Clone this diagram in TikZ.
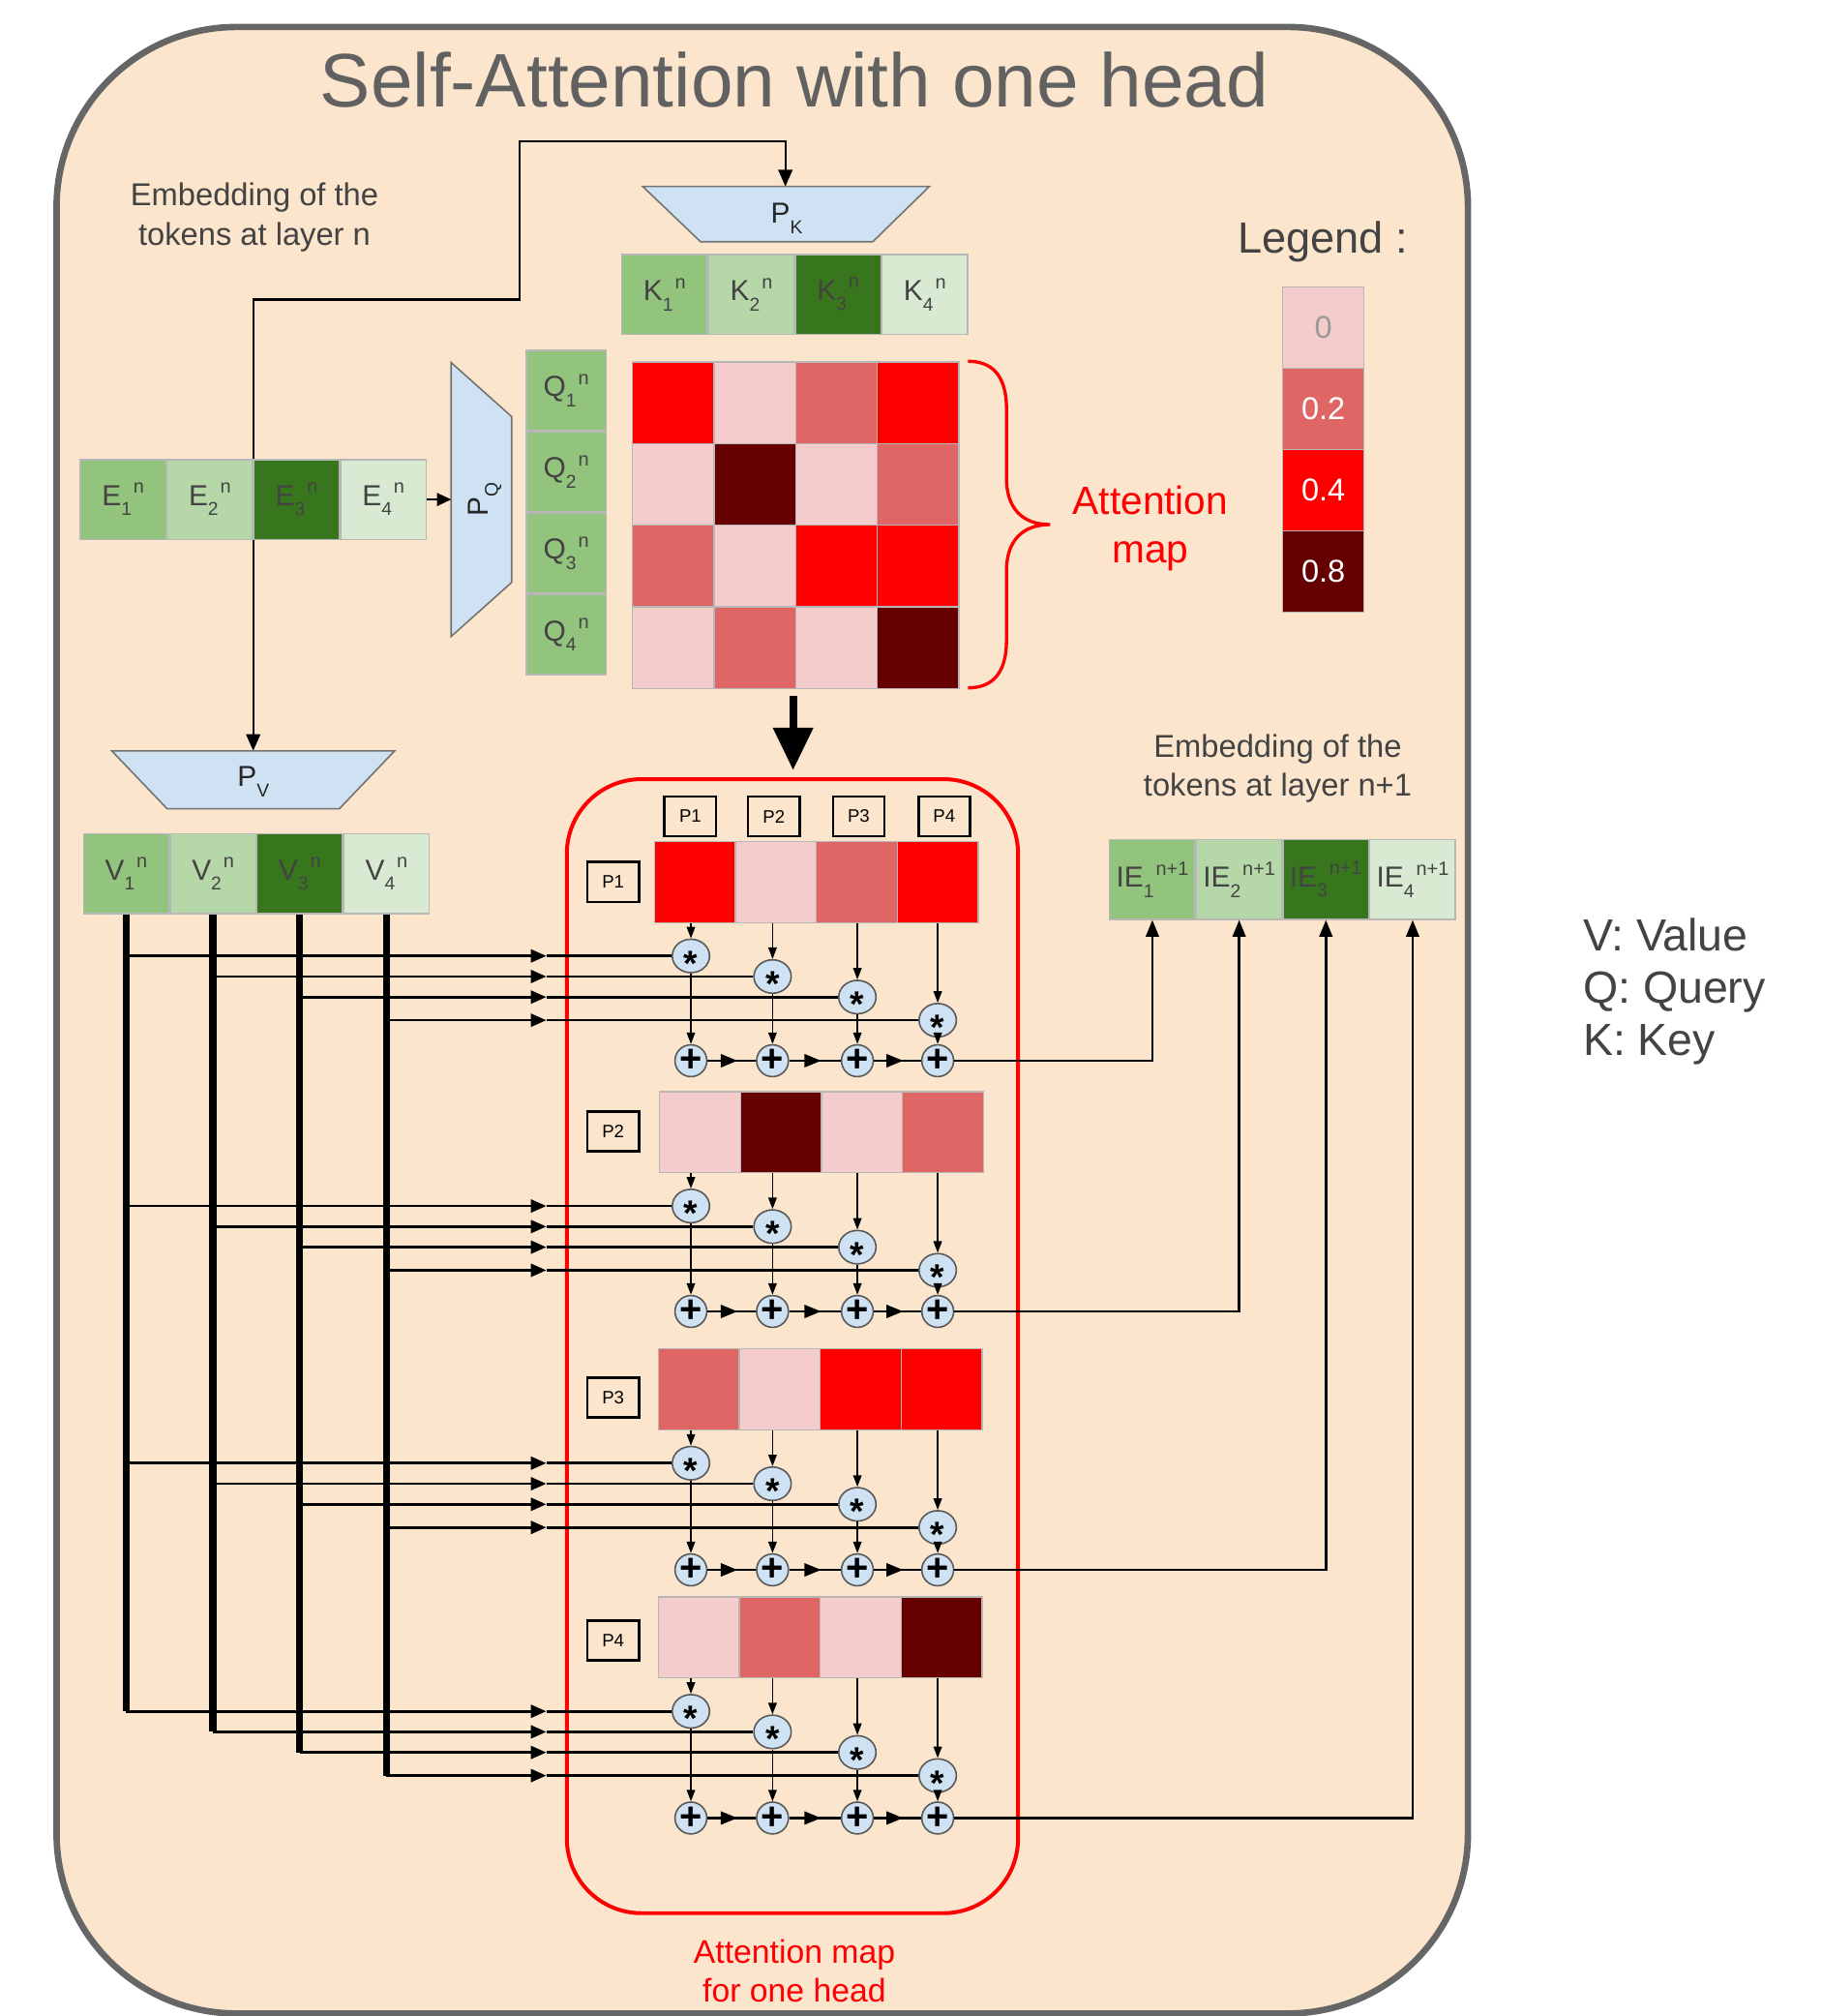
\documentclass[tikz,border=0pt]{standalone}
\usepackage{fontspec}
\setmainfont{Liberation Sans}
\usepackage{xcolor}
\usetikzlibrary{arrows.meta,positioning,shapes.geometric,decorations.markings}
\definecolor{peach}{HTML}{FCE5CD}
\definecolor{frame}{HTML}{666666}
\definecolor{projblue}{HTML}{CFE2F3}
\definecolor{gA}{HTML}{93C47D}
\definecolor{gB}{HTML}{B6D7A8}
\definecolor{gC}{HTML}{38761D}
\definecolor{gD}{HTML}{D9EAD3}
\definecolor{a0}{HTML}{F4CCCC}
\definecolor{a2}{HTML}{E06666}
\definecolor{a4}{HTML}{FF0000}
\definecolor{a8}{HTML}{660000}
\definecolor{txt}{HTML}{434343}
\definecolor{cellline}{HTML}{B7B7B7}
\newcommand{\lowsub}[1]{\raisebox{-0.35em}{\fontsize{14.5}{14.5}\selectfont #1}}
\newcommand{\highsup}[1]{\raisebox{0.42em}{\fontsize{15}{15}\selectfont #1}}
\newcommand{\tok}[3]{#1\lowsub{#2}\hspace{1.5pt}\highsup{#3}}
\tikzset{
  cell/.style  = {draw=cellline, line width=1pt, minimum width=66.5pt, minimum height=62pt,
                  inner sep=0pt, text=txt, font=\fontsize{22.5}{27}\selectfont},
  qcell/.style = {cell, fill=gA, minimum width=62pt, minimum height=62.3pt},
  acell/.style = {draw=cellline, line width=1pt, minimum width=63.4pt, minimum height=63.4pt,
                  inner sep=0pt},
  proj/.style  = {draw=black!55, line width=1.2pt, fill=projblue},
  plbl/.style  = {text=black!85, font=\fontsize{22.5}{27}\selectfont},
  pbox/.style  = {draw=black, line width=2pt, minimum width=40pt, minimum height=31pt,
                  inner sep=0pt, font=\fontsize{14}{16}\selectfont},
  mulop/.style = {shape=ellipse, draw=black!65, line width=1.2pt, fill=projblue,
                  minimum width=29pt, minimum height=26pt, inner sep=0pt,
                  path picture={\node[inner sep=0pt, font=\fontsize{28}{28}\selectfont\bfseries]
                    at ([yshift=-15.4pt]path picture bounding box.center) {\smash{*}};}},
  sumop/.style = {shape=circle, draw=black!65, line width=1.2pt, fill=projblue,
                  minimum size=23pt, inner sep=0pt, font=\fontsize{30}{30}\selectfont\bfseries},
  ar/.style    = {-{Triangle[length=9pt,width=6.5pt]}, line width=1.3pt},
  vin/.style   = {-{Triangle[length=12pt,width=10pt]}, line width=2pt},
  wire/.style  = {line width=2pt},
  vbar/.style  = {line width=5.5pt},
  sumar/.style = {line width=2pt, postaction={decorate}, decoration={markings,
                  mark=at position 0.62 with {\arrow{Triangle[length=13pt,width=10pt]}}}},
  outar/.style = {-{Triangle[length=13pt,width=10pt]}, line width=2pt},
  lbl/.style   = {text=txt, align=center, font=\fontsize{24.6}{30.2}\selectfont},
}

\begin{document}
\begin{tikzpicture}[x=1pt, y=-1pt]
  \useasboundingbox (0,0) rectangle (1417,1568);
  \fill[white] (0,0) rectangle (1417,1568);
  \draw[draw=frame, fill=peach, line width=5pt, rounded corners=140pt] (44,21) rectangle (1142,1566);

  \node[anchor=base, text=black!62, font=\fontsize{59}{70}\selectfont] (title) at (618,83) {Self-Attention with one head};
  \node[lbl] (embn) at (198,169) {Embedding of the\\tokens at layer n};
  \node[lbl] (embnext) at (994,598) {Embedding of the\\tokens at layer n+1};

  % E -> P_V and P_K
  \coordinate (pvtop) at (197,584);
  \coordinate (pktop) at (611,145);
  \coordinate (turnA) at (404,233);
  \coordinate (turnB) at (611,110);
  \draw[{Triangle[length=13pt,width=11pt]}-{Triangle[length=13pt,width=11pt]}, line width=1.6pt]
    (pvtop) |- (turnA) |- (turnB) -- (pktop);

  % projections
  \draw[proj] (500,145) -- (723,145) -- (679,188) -- (545,188) -- cycle;
  \node[plbl] (pk) at (612,170) {P\lowsub{K}};
  \draw[proj] (351,282) -- (398,324) -- (398,453) -- (351,495) -- cycle;
  \node[plbl, rotate=90] (pq) at (377,388.5) {P\lowsub{Q}};
  \draw[proj] (87,584) -- (307,584) -- (264,629) -- (130,629) -- cycle;
  \node[plbl] (pv) at (197,608) {P\lowsub{V}};

  % tokens at layer n
  \node[cell, fill=gA] (e1) at (95.75,388.5) {\tok{E}{1}{n}};
  \node[cell, fill=gB, right=0pt of e1] (e2) {\tok{E}{2}{n}};
  \node[cell, fill=gC, right=0pt of e2] (e3) {\tok{E}{3}{n}};
  \node[cell, fill=gD, right=0pt of e3] (e4) {\tok{E}{4}{n}};
  \coordinate (pqin) at (351,388.5);
  \draw[-{Triangle[length=11pt,width=10pt]}, line width=1.6pt] (e4.east) -- (pqin);

  \node[cell, fill=gA] (k1) at (517,229) {\tok{K}{1}{n}};
  \node[cell, fill=gB, right=0pt of k1] (k2) {\tok{K}{2}{n}};
  \node[cell, fill=gC, right=0pt of k2] (k3) {\tok{K}{3}{n}};
  \node[cell, fill=gD, right=0pt of k3] (k4) {\tok{K}{4}{n}};

  \node[qcell] (q1) at (440.5,303.6) {\tok{Q}{1}{n}};
  \node[qcell, below=0pt of q1] (q2) {\tok{Q}{2}{n}};
  \node[qcell, below=0pt of q2] (q3) {\tok{Q}{3}{n}};
  \node[qcell, below=0pt of q3] (q4) {\tok{Q}{4}{n}};

  \node[cell, fill=gA] (v1) at (98.2,679.5) {\tok{V}{1}{n}};
  \node[cell, fill=gB, right=0pt of v1] (v2) {\tok{V}{2}{n}};
  \node[cell, fill=gC, right=0pt of v2] (v3) {\tok{V}{3}{n}};
  \node[cell, fill=gD, right=0pt of v3] (v4) {\tok{V}{4}{n}};

  \node[cell, fill=gA] (ie1) at (896.5,684) {\tok{IE}{1}{n+1}};
  \node[cell, fill=gB, right=0pt of ie1] (ie2) {\tok{IE}{2}{n+1}};
  \node[cell, fill=gC, right=0pt of ie2] (ie3) {\tok{IE}{3}{n+1}};
  \node[cell, fill=gD, right=0pt of ie3] (ie4) {\tok{IE}{4}{n+1}};

  % attention map
  \foreach \ri/\vals in {1/{a4,a0,a2,a4}, 2/{a0,a8,a0,a2}, 3/{a2,a0,a4,a4}, 4/{a0,a2,a0,a8}} {
    \foreach \v [count=\ci] in \vals {
      \node[acell, fill=\v] (a\ri\ci) at ({492+63.5*(\ci-0.5)},{281.5+63.5*(\ri-0.5)}) {};
    }
  }
  \draw[red, line width=2.5pt] (753,281) .. controls (770,281) and (783,290) .. (783,318)
    -- (783,372) .. controls (783,395) and (795,408) .. (817,408)
    .. controls (795,408) and (783,421) .. (783,444)
    -- (783,498) .. controls (783,526) and (770,535) .. (753,535);
  \node[text=red, align=center, font=\fontsize{30.6}{37}\selectfont] (amlbl) at (895,411) {Attention\\map};

  % legend
  \node[anchor=base, text=txt, font=\fontsize{34}{40}\selectfont] (legend) at (1029,197) {Legend :};
  \foreach \v/\lab/\tc [count=\i] in {a0/0/black!40, a2/0.2/white, a4/0.4/white, a8/0.8/white} {
    \node[acell, fill=\v, text=\tc, font=\fontsize{24.5}{28}\selectfont] (leg\i) at (1029.5,{223.4+63.2*(\i-0.5)}) {\lab};
  }
  \node[anchor=west, align=left, text=txt, font=\fontsize{35}{40.6}\selectfont] (keys) at (1228,771) {V: Value\\Q: Query\\K: Key};

  % map for one head
  \coordinate (mapout) at (617,541);
  \coordinate (mapin) at (617,599);
  \draw[-{Triangle[length=33pt,width=30pt]}, line width=6pt] (mapout) -- (mapin);
  \draw[red, line width=3pt, rounded corners=58pt] (441,606) rectangle (792,1488);
  \node[text=red, align=center, font=\fontsize{25.4}{30.1}\selectfont] (maplbl) at (618,1533) {Attention map\\for one head};
  \foreach \ci/\cx in {1/537,2/602,3/668,4/734.5} {
    \node[pbox] (h\ci) at (\cx,635) {P\ci};
  }

  % one row per query
  \foreach \ri/\ly in {1/686, 2/880, 3/1087, 4/1276} {
    \node[pbox] (rl\ri) at (477,\ly) {P\ri};
  }
  \foreach \ri/\sx/\sy/\vals in {1/509/654.5/{a4,a0,a2,a4}, 2/513/849/{a0,a8,a0,a2},
                                 3/512/1049/{a2,a0,a4,a4}, 4/512/1242/{a0,a2,a0,a8}} {
    \foreach \v [count=\ci] in \vals {
      \node[acell, minimum width=63pt, minimum height=63pt, fill=\v] (s\ri\ci) at ({\sx+63*(\ci-0.5)},{\sy+31.5}) {};
    }
  }
  \foreach \ri/\ytop/\yplus in {1/717.5/825, 2/912/1020, 3/1112/1221, 4/1305/1414} {
    \foreach \ci/\cx/\yoff in {1/537.5/26, 2/601/42, 3/667/58, 4/729.5/76} {
      \node[mulop] (m\ri\ci) at (\cx,{\ytop+\yoff}) {};
      \node[sumop] (p\ri\ci) at (\cx,\yplus) {+};
    }
  }

  \coordinate (vtip) at (425,0);
  \foreach \ri in {1,...,4} {
    \foreach \ci in {1,...,4} {
      \draw[ar] (s\ri\ci.south -| m\ri\ci) -- (m\ri\ci);
      \draw[ar] (m\ri\ci) -- (p\ri\ci);
      \draw[vin] (v\ci |- m\ri\ci) -- (vtip |- m\ri\ci);
      \draw[wire] (vtip |- m\ri\ci) -- (m\ri\ci);
    }
  }
  \foreach \ri in {1,...,4} {
    \foreach \ci/\nx in {1/2, 2/3, 3/4} {
      \draw[sumar] (p\ri\ci) -- (p\ri\nx);
    }
    \draw[outar] (p\ri4) -| (ie\ri.south);
  }
  \foreach \ci in {1,...,4} {
    \draw[vbar] (v\ci.south) -- (v\ci |- m4\ci);
  }
\end{tikzpicture}
\end{document}
